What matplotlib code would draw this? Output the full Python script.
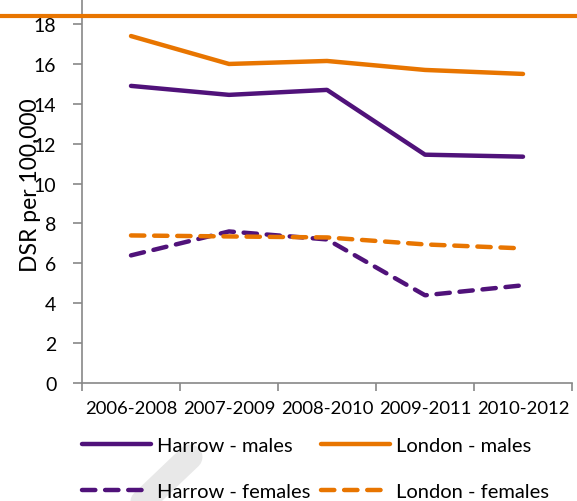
import matplotlib
matplotlib.use("Agg")
import matplotlib.pyplot as plt
from matplotlib.lines import Line2D

# ============== Data ==============
periods = ["2006-2008", "2007-2009", "2008-2010", "2009-2011", "2010-2012"]
harrow_males = [14.9, 14.45, 14.7, 11.45, 11.35]
london_males = [17.4, 16.0, 16.15, 15.7, 15.5]
harrow_females = [6.4, 7.6, 7.2, 4.4, 4.9]
london_females = [7.4, 7.35, 7.3, 6.95, 6.75]
# ==================================

PURPLE = "#50127a"
ORANGE = "#e87500"
FONT = ["Lato", "DejaVu Sans"]

plt.rcParams["font.family"] = FONT

fig = plt.figure(figsize=(5.77, 5.02), dpi=100)
ax = fig.add_axes([82 / 577, 1 - 384 / 502, (572 - 82) / 577, 384 / 502])

x = range(len(periods))
lw = 3.2
ax.plot(x, harrow_males, color=PURPLE, lw=lw, solid_capstyle="round",
        solid_joinstyle="round", label="Harrow - males")
ax.plot(x, harrow_females, color=PURPLE, lw=lw, dashes=(3.0, 2.2),
        dash_capstyle="round", label="Harrow - females")
ax.plot(x, london_males, color=ORANGE, lw=lw, solid_capstyle="round",
        solid_joinstyle="round", label="London - males")
ax.plot(x, london_females, color=ORANGE, lw=lw, dashes=(3.0, 2.2),
        dash_capstyle="round", label="London - females")

ax.set_xlim(-0.5, len(periods) - 0.5)
ax.set_ylim(0, 384 / 19.94)
ax.set_yticks(range(0, 19, 2))
ax.set_xticks(list(x))
ax.set_xticklabels(periods, fontsize=13.3)
ax.set_xticks([i - 0.5 for i in range(len(periods) + 1)], minor=True)
ax.tick_params(axis="x", which="major", length=0, pad=12)
ax.tick_params(axis="x", which="minor", length=6, color="#888888", width=1.2)
ax.tick_params(axis="y", length=6.5, color="#888888", width=1.2, labelsize=14, pad=12)

for side in ["top", "right"]:
    ax.spines[side].set_visible(False)
for side in ["left", "bottom"]:
    ax.spines[side].set_color("#888888")
    ax.spines[side].set_linewidth(1.2)

fig.text(31 / 577, 1 - 185 / 502, "DSR per 100,000", rotation=90,
         fontsize=16.5, ha="center", va="center")

# orange rule across the top of the page
fig.add_artist(Line2D([0, 1], [1 - 17 / 502, 1 - 17 / 502], color=ORANGE,
                      lw=3, transform=fig.transFigure))

# faint watermark stroke
fig.add_artist(Line2D([190 / 577, 125 / 577], [1 - 458 / 502, 1 - 520 / 502],
                      color="#e8e8e8", lw=18, solid_capstyle="round",
                      transform=fig.transFigure, zorder=0))

ax.legend(ncol=2, loc="upper left", bbox_to_anchor=(72 / 577, 1 - 428 / 502),
          bbox_transform=fig.transFigure, frameon=False, fontsize=14.5,
          handlelength=3.4, handletextpad=0.3, columnspacing=0.55,
          labelspacing=1.45, borderpad=0)

fig.savefig("out.png", dpi=100)
